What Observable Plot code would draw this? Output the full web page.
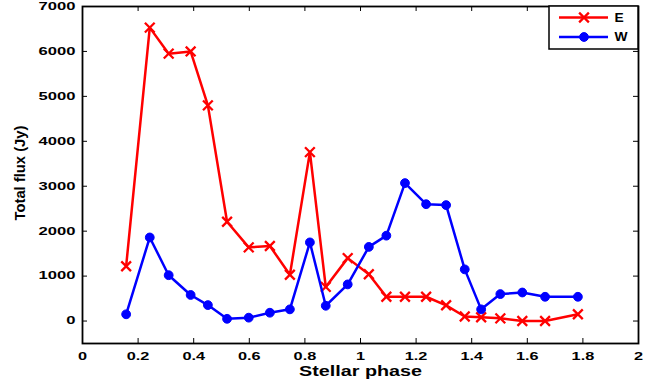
<!DOCTYPE html>
<html>
<head>
<meta charset="utf-8">
<script src="https://cdn.jsdelivr.net/npm/d3@7"></script>
<script src="https://cdn.jsdelivr.net/npm/@observablehq/plot@0.6"></script>
<style>
  html, body { margin: 0; padding: 0; background: #fff; }
  #wrap { position: relative; width: 654px; height: 383px; }
  #legend { position: absolute; left: 0; top: 0; }
</style>
</head>
<body>
<div id="wrap"></div>
<script>
// ---- data ----
const phase = [0.157, 0.242, 0.310, 0.389, 0.451, 0.520, 0.598, 0.674, 0.746, 0.818, 0.875, 0.954,
               1.030, 1.093, 1.160, 1.236, 1.308, 1.375, 1.434, 1.503, 1.582, 1.664, 1.782];
const fluxE = [1220, 6530, 5950, 6000, 4800, 2210, 1640, 1670, 1030, 3760, 760, 1400,
               1040, 540, 540, 540, 350, 100, 85, 60, 0, 0, 150];
const fluxW = [150, 1860, 1020, 580, 355, 50, 75, 185, 260, 1750, 340, 815,
               1650, 1900, 3070, 2600, 2580, 1150, 260, 600, 635, 540, 540];
const seriesNames = ["E", "W"];
const seriesColors = ["#ff0000", "#0000ff"];
const xTicks = [0, 0.2, 0.4, 0.6, 0.8, 1, 1.2, 1.4, 1.6, 1.8, 2];
const xTickLabels = ["0", "0.2", "0.4", "0.6", "0.8", "1", "1.2", "1.4", "1.6", "1.8", "2"];
const yTicks = [0, 1000, 2000, 3000, 4000, 5000, 6000, 7000];
const yTickLabels = ["0", "1000", "2000", "3000", "4000", "5000", "6000", "7000"];
const xLabel = "Stellar phase";
const yLabel = "Total flux (Jy)";

const rowsE = phase.map((p, i) => ({phase: p, flux: fluxE[i]}));
const rowsW = phase.map((p, i) => ({phase: p, flux: fluxW[i]}));

const W = 654, H = 383;
const mL = 82, mR = 16, mT = 6, mB = 40;
const fw = W - mL - mR, fh = H - mT - mB;
const font = "'Liberation Sans', Arial, Helvetica, sans-serif";

const chart = Plot.plot({
  width: W, height: H,
  marginLeft: mL, marginRight: mR, marginTop: mT, marginBottom: mB,
  style: {fontFamily: font, background: "#fff", color: "#000"},
  x: {domain: [0, 2], axis: null},
  y: {domain: [-500, 7000], axis: null},
  marks: [
    // inward ticks on all four sides
    Plot.tickX(xTicks, {x: d => d, insetTop: fh - 5, stroke: "#000", strokeWidth: 1}),
    Plot.tickX(xTicks, {x: d => d, insetBottom: fh - 5, stroke: "#000", strokeWidth: 1}),
    Plot.tickY(yTicks, {y: d => d, insetRight: fw - 5, stroke: "#000", strokeWidth: 1}),
    Plot.tickY(yTicks, {y: d => d, insetLeft: fw - 5, stroke: "#000", strokeWidth: 1}),
    Plot.axisX(xTicks, {tickSize: 0, tickPadding: 9, fontSize: 10.5, fontWeight: "bold",
      tickFormat: d => xTickLabels[xTicks.indexOf(d)], label: null}),
    Plot.axisY(yTicks, {tickSize: 0, tickPadding: 7, fontSize: 10.5, fontWeight: "bold",
      tickFormat: d => yTickLabels[yTicks.indexOf(d)], label: null}),
    // series
    Plot.line(rowsE, {x: "phase", y: "flux", stroke: seriesColors[0], strokeWidth: 2.5}),
    Plot.dot(rowsE, {x: "phase", y: "flux", symbol: "times", r: 4.5, stroke: seriesColors[0], strokeWidth: 2.3}),
    Plot.line(rowsW, {x: "phase", y: "flux", stroke: seriesColors[1], strokeWidth: 2.5}),
    Plot.dot(rowsW, {x: "phase", y: "flux", r: 4.4, fill: seriesColors[1], stroke: seriesColors[1], strokeWidth: 1}),
    Plot.frame({stroke: "#000", strokeWidth: 1.8}),
    // axis titles
    Plot.text([xLabel], {text: d => d, frameAnchor: "bottom", dy: 32.5, lineAnchor: "bottom",
      textAnchor: "middle", fontSize: 15, fontWeight: "bold", fill: "#000"}),
    Plot.text([yLabel], {text: d => d, frameAnchor: "left", rotate: -90, dx: -62, dy: -2,
      textAnchor: "middle", fontSize: 15, fontWeight: "bold", fill: "#000"})
  ]
});

const wrap = document.getElementById("wrap");
wrap.appendChild(chart);

// horizontal stretch of texts, as in the reference
function stretch(nodes, factor, fixed) {
  nodes.forEach(node => {
    const len = node.getComputedTextLength();
    if (len > 0) {
      node.setAttribute("textLength", fixed != null ? fixed : len * factor);
      node.setAttribute("lengthAdjust", "spacingAndGlyphs");
    }
  });
}
const allText = Array.from(chart.querySelectorAll("text"));
stretch(Array.from(chart.querySelectorAll('g[aria-label="x-axis tick label"] text')), 1.55);
stretch(Array.from(chart.querySelectorAll('g[aria-label="y-axis tick label"] text')), 1.58);
stretch(allText.filter(t => t.textContent === xLabel), 1, 123);
stretch(allText.filter(t => t.textContent === yLabel), 1, 95);

// legend box (top-right, inside the frame)
const lg = d3.select(wrap).append("svg").attr("id", "legend")
  .attr("width", W).attr("height", 60);
const bx = 549, by = mT, bw = W - mR - bx, bh = 43;
lg.append("rect").attr("x", bx).attr("y", by).attr("width", bw).attr("height", bh)
  .attr("fill", "#fff").attr("stroke", "#000").attr("stroke-width", 1.5);
seriesNames.forEach((name, i) => {
  const cy = by + 11.5 + i * 19.5;
  const g = lg.append("g");
  g.append("line").attr("x1", 559).attr("x2", 608).attr("y1", cy).attr("y2", cy)
    .attr("stroke", seriesColors[i]).attr("stroke-width", 2.5);
  if (i === 0) {
    g.append("path").attr("d", d3.symbol(d3.symbolTimes, Math.PI * 4.5 * 4.5)())
      .attr("transform", `translate(584,${cy})`)
      .attr("fill", "none").attr("stroke", seriesColors[i]).attr("stroke-width", 2.3);
  } else {
    g.append("circle").attr("cx", 584).attr("cy", cy).attr("r", 4.4)
      .attr("fill", seriesColors[i]).attr("stroke", seriesColors[i]).attr("stroke-width", 1);
  }
  const t = g.append("text").attr("x", 614.5).attr("y", cy).attr("dy", "0.36em")
    .attr("font-family", font).attr("font-weight", "bold").attr("font-size", 12)
    .attr("fill", "#000").text(name);
  const len = t.node().getComputedTextLength();
  t.attr("textLength", len * 1.15).attr("lengthAdjust", "spacingAndGlyphs");
});
</script>
</body>
</html>
